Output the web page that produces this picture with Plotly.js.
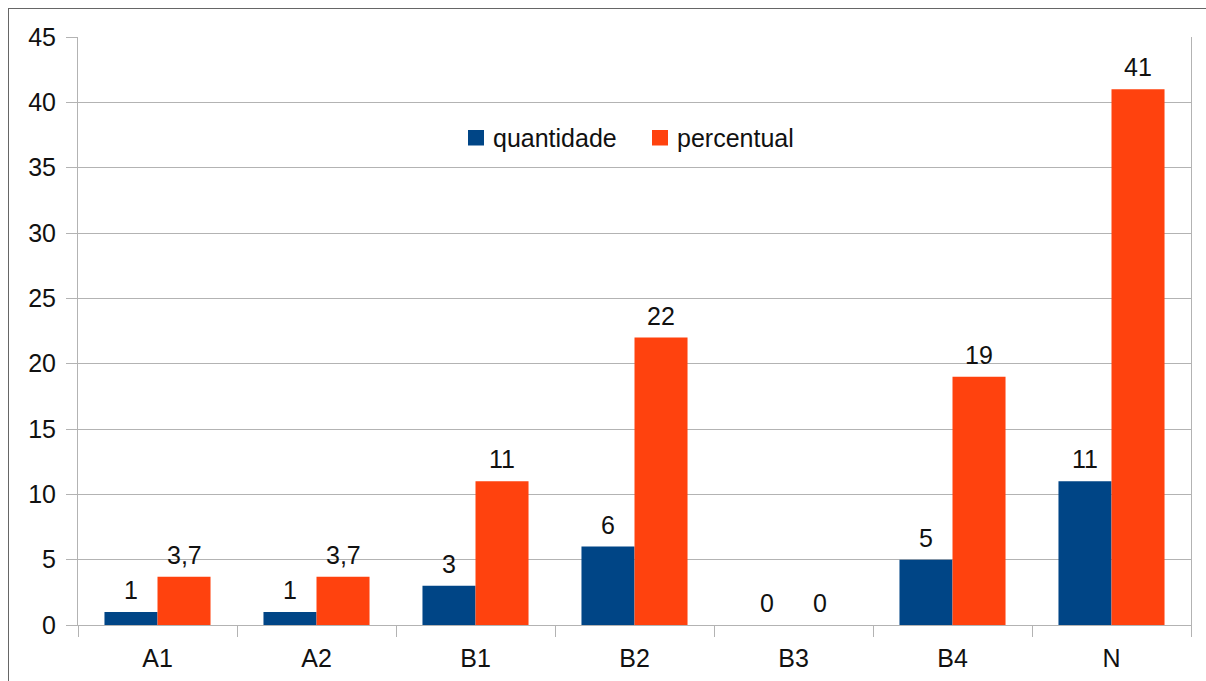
<!DOCTYPE html>
<html>
<head>
<meta charset="utf-8">
<script src="https://cdn.plot.ly/plotly-3.0.1.min.js"></script>
<style>
  html, body { margin: 0; padding: 0; background: #fff; overflow: hidden; }
  #wrap { position: relative; width: 1206px; height: 681px; }
  #chart { position: absolute; left: 0; top: 0; width: 1206px; height: 681px; }
  #frame { position: absolute; left: 8px; top: 8px; width: 1210px; height: 690px;
           border: 1.5px solid #666; box-sizing: border-box; pointer-events: none; }
</style>
</head>
<body>
<div id="wrap">
  <div id="chart"></div>
  <div id="frame"></div>
</div>
<script>
const categories = ['A1', 'A2', 'B1', 'B2', 'B3', 'B4', 'N'];
const seriesNames = ['quantidade', 'percentual'];
const quantidade = [1, 1, 3, 6, 0, 5, 11];
const percentual = [3.7, 3.7, 11, 22, 0, 19, 41];
const yTicks = [0, 5, 10, 15, 20, 25, 30, 35, 40, 45];

const fontFam = 'Liberation Sans, Arial, sans-serif';
const FS = 25;
const blue = '#004586';
const orange = '#ff420e';
const colors = [blue, orange];

const fmt = v => String(v).replace('.', ',');

const traces = [
  { type: 'bar', name: seriesNames[0], x: categories, y: quantidade, marker: { color: blue }, hoverinfo: 'none', showlegend: false },
  { type: 'bar', name: seriesNames[1], x: categories, y: percentual, marker: { color: orange }, hoverinfo: 'none', showlegend: false }
];

const W = 1206, H = 681, ML = 78, MR = 15, MT = 37, MB = 56;
const PW = W - ML - MR, PH = H - MT - MB;
const px2x = p => (p - ML) / PW;
const px2y = p => (H - MB - p) / PH;

const annotations = [];
const shapes = [];
categories.forEach((c, i) => {
  annotations.push({ x: c, y: quantidade[i], xref: 'x', yref: 'y', text: fmt(quantidade[i]),
    showarrow: false, xshift: -26.5, yshift: 22, yanchor: 'middle',
    font: { family: fontFam, size: FS, color: '#111' } });
  annotations.push({ x: c, y: percentual[i], xref: 'x', yref: 'y', text: fmt(percentual[i]),
    showarrow: false, xshift: 26.5, yshift: 22, yanchor: 'middle',
    font: { family: fontFam, size: FS, color: '#111' } });
});

// legend drawn manually (inside plot, top centre)
const legendItems = [{ sq: 468, tx: 491 }, { sq: 652, tx: 675 }];
legendItems.forEach((it, k) => {
  shapes.push({ type: 'rect', xref: 'paper', yref: 'paper',
    x0: px2x(it.sq), x1: px2x(it.sq + 16), y0: px2y(145.5), y1: px2y(130),
    fillcolor: colors[k], line: { width: 0 } });
  annotations.push({ xref: 'paper', yref: 'paper', x: px2x(it.tx), y: px2y(138),
    xanchor: 'left', yanchor: 'middle', showarrow: false, text: seriesNames[k],
    font: { family: fontFam, size: FS, color: '#111' } });
});

const layout = {
  width: W, height: H,
  margin: { l: ML, r: MR, t: MT, b: MB, pad: 0 },
  paper_bgcolor: '#fff', plot_bgcolor: '#fff',
  barmode: 'group', bargap: 0.333, bargroupgap: 0,
  font: { family: fontFam, size: FS, color: '#111' },
  showlegend: false,
  xaxis: {
    type: 'category', tickson: 'boundaries', ticks: 'outside', ticklen: 11, tickcolor: '#b3b3b3',
    showline: true, linecolor: '#b3b3b3', linewidth: 1, showgrid: false, zeroline: false,
    tickfont: { family: fontFam, size: FS, color: '#111' }, ticklabelstandoff: 11
  },
  yaxis: {
    range: [0, 45], tickvals: yTicks, ticktext: yTicks.map(String),
    ticks: 'outside', ticklen: 11, tickcolor: '#b3b3b3',
    showline: true, mirror: true, linecolor: '#b3b3b3', linewidth: 1,
    showgrid: true, gridcolor: '#b3b3b3', gridwidth: 1, zeroline: false,
    tickfont: { family: fontFam, size: FS, color: '#111' }, ticklabelstandoff: 5
  },
  shapes: shapes,
  annotations: annotations
};

Plotly.newPlot('chart', traces, layout, { displayModeBar: false, staticPlot: true });
</script>
</body>
</html>
